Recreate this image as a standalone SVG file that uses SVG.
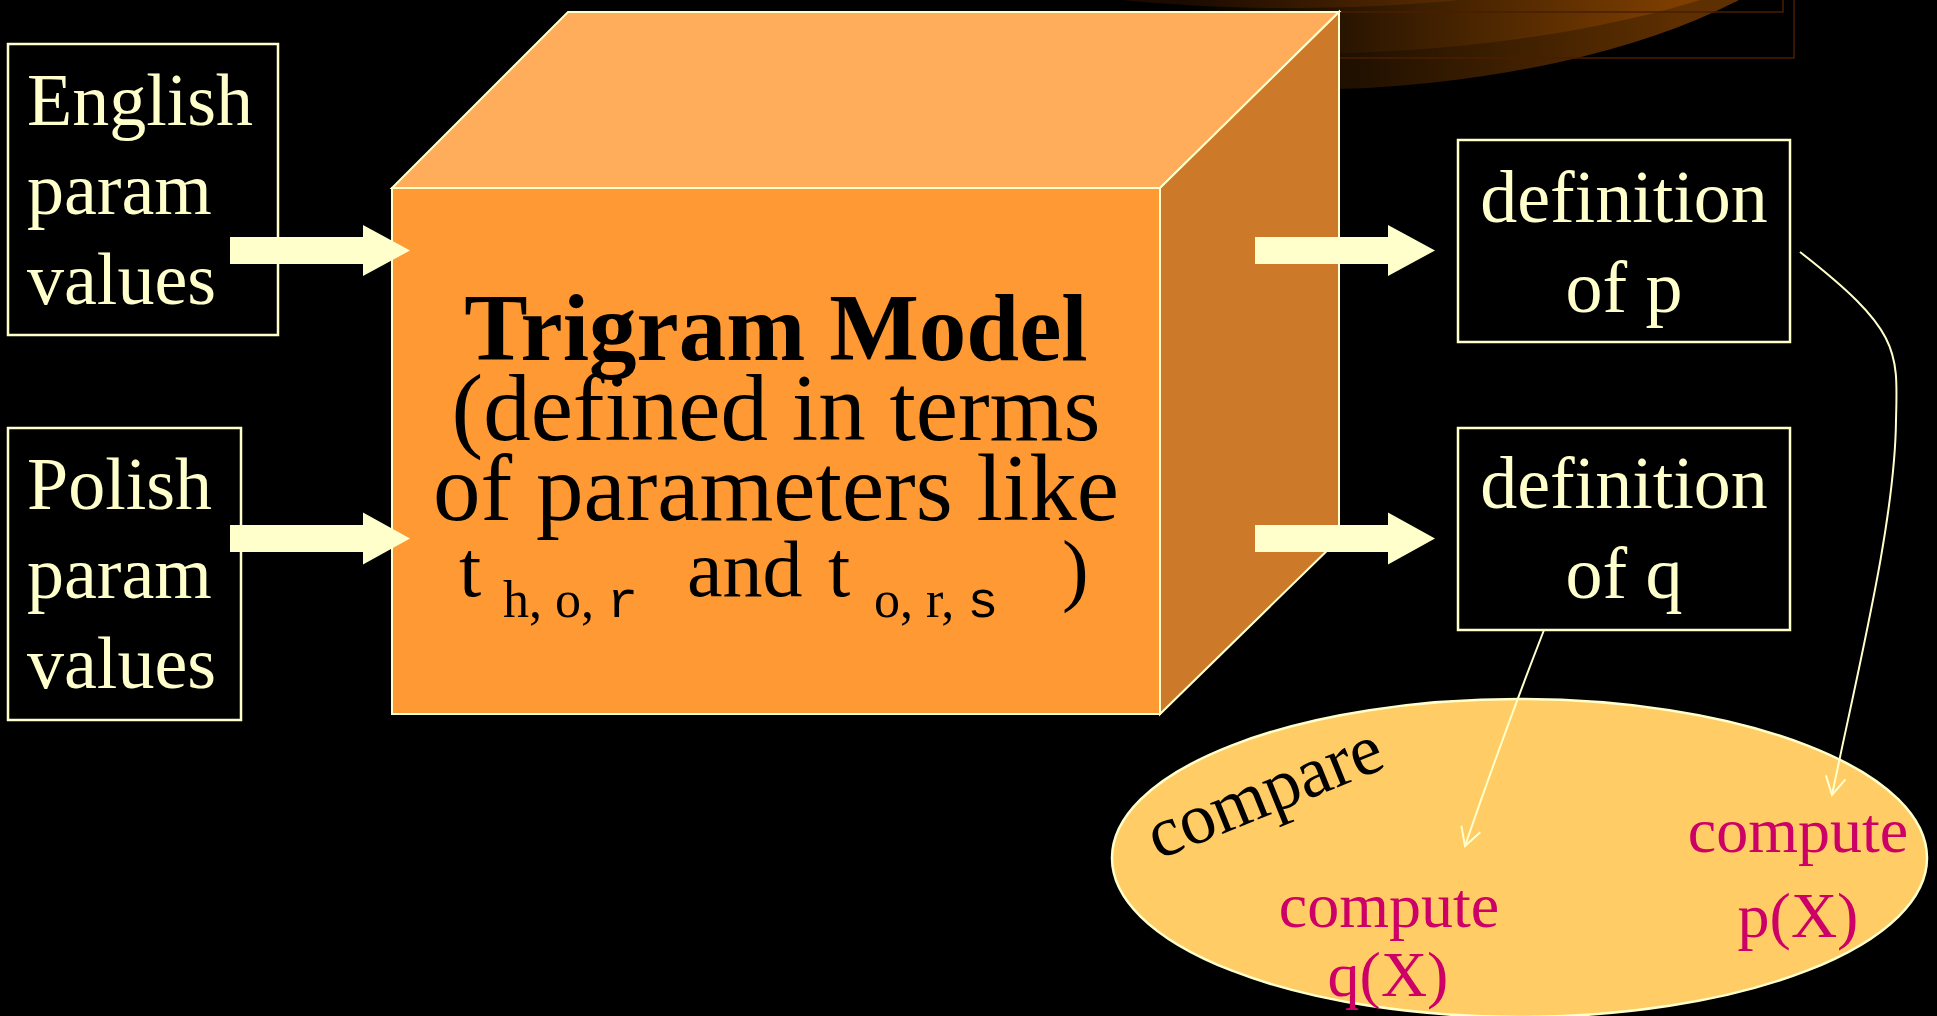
<svg xmlns="http://www.w3.org/2000/svg" width="1937" height="1016" viewBox="0 0 1937 1016">
  <defs>
    <linearGradient id="glowA" gradientUnits="userSpaceOnUse" x1="1180" y1="0" x2="1680" y2="0">
      <stop offset="0" stop-color="#000000"/>
      <stop offset="1" stop-color="#5E2F00"/>
    </linearGradient>
    <linearGradient id="glowB" gradientUnits="userSpaceOnUse" x1="1180" y1="0" x2="1680" y2="0">
      <stop offset="0" stop-color="#000000"/>
      <stop offset="1" stop-color="#7E3F00"/>
    </linearGradient>
    <linearGradient id="glowC" gradientUnits="userSpaceOnUse" x1="1180" y1="0" x2="1680" y2="0">
      <stop offset="0" stop-color="#1a0a00"/>
      <stop offset="1" stop-color="#8E4800"/>
    </linearGradient>
    <marker id="vhead" markerUnits="userSpaceOnUse" markerWidth="30" markerHeight="30" viewBox="-22 -15 30 30" refX="0" refY="0" orient="auto">
      <path d="M-18,-10 L0,0 L-18,10" fill="none" stroke="#FFFFCC" stroke-width="2"/>
    </marker>
    <style>
      .cream { fill: #FFFFCC; }
      .box { fill: #000000; stroke: #FFFFCC; stroke-width: 2.5; }
      .face { stroke: #FFFFCC; stroke-width: 2; stroke-linejoin: miter; }
      .serif { font-family: "Liberation Serif", "Times New Roman", serif; }
      .mono { font-family: "Liberation Mono", "Courier New", monospace; }
      .lbl { font-family: "Liberation Serif", "Times New Roman", serif; font-size: 74px; fill: #FFFFCC; }
      .mag { font-family: "Liberation Serif", "Times New Roman", serif; font-size: 64px; fill: #CC0066; text-anchor: middle; }
      .conn { fill: none; stroke: #FFFFCC; stroke-width: 2; marker-end: url(#vhead); }
      .tline { fill: none; stroke: #4A1E00; stroke-width: 1.5; }
    </style>
  </defs>

  <rect x="0" y="0" width="1937" height="1016" fill="#000000"/>

  <!-- decorative template glow at top -->
  <g id="decor">
    <ellipse cx="1290" cy="-150" rx="575" ry="240" fill="url(#glowA)"/>
    <ellipse cx="1290" cy="-150" rx="605" ry="204" fill="url(#glowB)"/>
    <ellipse cx="1290" cy="-150" rx="540" ry="158" fill="url(#glowC)"/>
    <polyline class="tline" points="1340,58 1794,58 1794,0"/>
    <polyline class="tline" points="1340,12 1783,12 1783,0"/>
  </g>

  <!-- cube node -->
  <g id="trigram-model">
    <polygon class="face" fill="#FFAD5B" points="392,188 568,12 1339,12 1160,188"/>
    <polygon class="face" fill="#CC7A2A" points="1160,188 1339,12 1339,539 1160,714"/>
    <rect class="face" fill="#FF9933" x="392" y="188" width="768" height="526"/>
    <g class="serif" fill="#000000">
      <text x="776" y="360" font-size="95" font-weight="bold" text-anchor="middle">Trigram Model</text>
      <text x="776" y="440" font-size="95" text-anchor="middle">(defined in terms</text>
      <text x="776" y="520" font-size="95" text-anchor="middle">of parameters like</text>
      <text x="459" y="596" font-size="80">t</text>
      <text x="503" y="617" font-size="52">h, o, <tspan class="mono">r</tspan></text>
      <text x="687" y="596" font-size="80">and</text>
      <text x="828" y="596" font-size="80">t</text>
      <text x="874" y="617" font-size="52">o, r, <tspan class="mono">s</tspan></text>
      <text x="1062" y="596" font-size="80">)</text>
    </g>
  </g>

  <!-- input boxes -->
  <g id="english">
    <rect class="box" x="8" y="44" width="270" height="291"/>
    <text class="lbl" x="27" y="125">English</text>
    <text class="lbl" x="27" y="214">param</text>
    <text class="lbl" x="27" y="304">values</text>
  </g>
  <g id="polish">
    <rect class="box" x="8" y="428" width="233" height="292"/>
    <text class="lbl" x="27" y="509">Polish</text>
    <text class="lbl" x="27" y="598">param</text>
    <text class="lbl" x="27" y="688">values</text>
  </g>

  <!-- output boxes -->
  <g id="def-p">
    <rect class="box" x="1458" y="140" width="332" height="202"/>
    <text class="lbl" x="1624" y="222" text-anchor="middle">definition</text>
    <text class="lbl" x="1624" y="312" text-anchor="middle">of p</text>
  </g>
  <g id="def-q">
    <rect class="box" x="1458" y="428" width="332" height="202"/>
    <text class="lbl" x="1624" y="508" text-anchor="middle">definition</text>
    <text class="lbl" x="1624" y="598" text-anchor="middle">of q</text>
  </g>

  <!-- compare ellipse -->
  <g id="compare">
    <ellipse cx="1519.5" cy="858" rx="407.5" ry="159" fill="#FFCC66" stroke="#FFFFCC" stroke-width="2.5"/>
    <text class="serif" transform="translate(1158,860) rotate(-22)" font-size="72" fill="#000000">compare</text>
    <text class="mag" x="1389" y="927">compute</text>
    <text class="mag" x="1388" y="996">q(X)</text>
    <text class="mag" x="1798" y="852">compute</text>
    <text class="mag" x="1798" y="937">p(X)</text>
  </g>

  <!-- connectors -->
  <g id="connectors">
    <polygon class="cream" points="230,237 363,237 363,225 410,250.5 363,276 363,264 230,264"/>
    <polygon class="cream" points="230,525 363,525 363,512.5 410,538.5 363,564.5 363,552 230,552"/>
    <polygon class="cream" points="1255,237 1388,237 1388,225 1435,250.5 1388,276 1388,264 1255,264"/>
    <polygon class="cream" points="1255,525 1388,525 1388,512.5 1435,538.5 1388,564.5 1388,552 1255,552"/>
    <path class="conn" d="M1544,630 Q1502,738 1465,846"/>
    <path class="conn" d="M1800,252 C1900,330 1898,350 1896,420 C1895,520 1860,660 1832,795"/>
  </g>
</svg>
